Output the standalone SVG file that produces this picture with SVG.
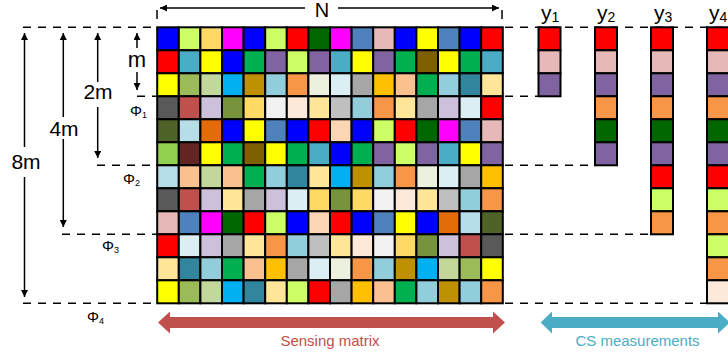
<svg xmlns="http://www.w3.org/2000/svg" width="728" height="355" viewBox="0 0 728 355">
<style>
rect.c{width:21.6px;height:23px;stroke:#000;stroke-width:2}
rect.m{width:22px;height:23px;stroke:#000;stroke-width:2}
.dash{stroke:#000;stroke-width:1.5;stroke-dasharray:8 7;fill:none}
.ar{stroke:#000;stroke-width:1.5;fill:none;marker-end:url(#ah)}
.t{font-family:"Liberation Sans",Arial,sans-serif;fill:#000}
.b{fill:#0000ff}.lm{fill:#ccff66}.lo{fill:#ffd966}.mg{fill:#ff00ff}.r{fill:#ff0000}.dg{fill:#006600}
.sb{fill:#4f81bd}.pk{fill:#e6b9b8}.y{fill:#ffff00}.tl{fill:#4bacc6}.gr{fill:#00b050}.pu{fill:#8064a2}
.br{fill:#7f6000}.og{fill:#9bbb59}.sg{fill:#c4d79b}.sk{fill:#00b0f0}.gd{fill:#bf9000}.lb{fill:#92cddc}
.or{fill:#f79646}.vg{fill:#ebf1de}.lw{fill:#daeef3}.gy{fill:#a6a6a6}.am{fill:#ffc000}.pc{fill:#fac090}
.dt{fill:#31859c}.ly{fill:#ffe699}.dk{fill:#595959}.bk{fill:#c0504d}.lv{fill:#ccc0da}.ol{fill:#77933c}
.lg{fill:#f2f2f2}.lp{fill:#fde9d9}.sv{fill:#bfbfbf}.do{fill:#4f6228}.cy{fill:#b7dee8}.eo{fill:#e36c09}
.pl{fill:#fcd5b4}.ln{fill:#92d050}.mr{fill:#632523}
</style>
<defs>
<marker id="ah" viewBox="0 0 10 10" refX="10" refY="5" markerUnits="userSpaceOnUse" markerWidth="8" markerHeight="7" orient="auto">
<path d="M0,0 L10,5 L0,10 z" fill="#000"/>
</marker>
</defs>

<g id="connectors">
<line class="dash" x1="23" y1="27.3" x2="157" y2="27.3"/>
<line class="dash" x1="137" y1="96.3" x2="157" y2="96.3"/>
<line class="dash" x1="97" y1="165.3" x2="157" y2="165.3"/>
<line class="dash" x1="62" y1="234.3" x2="157" y2="234.3"/>
<line class="dash" x1="23" y1="303.3" x2="157" y2="303.3"/>
<line class="dash" x1="505" y1="27.3" x2="728" y2="27.3"/>
<line class="dash" x1="505" y1="96.3" x2="538" y2="96.3"/>
<line class="dash" x1="505" y1="165.3" x2="595" y2="165.3"/>
<line class="dash" x1="505" y1="234.3" x2="651" y2="234.3"/>
<line class="dash" x1="505" y1="303.3" x2="707" y2="303.3"/>
<line stroke="#000" stroke-width="1.5" x1="157" y1="10" x2="157" y2="19"/>
<line stroke="#000" stroke-width="1.5" x1="502" y1="10" x2="502" y2="19"/>
<line class="ar" x1="305" y1="8" x2="160" y2="8"/>
<line class="ar" x1="338" y1="8" x2="499" y2="8"/>
<line class="ar" x1="137" y1="48" x2="137" y2="33"/>
<line class="ar" x1="137" y1="72" x2="137" y2="90"/>
<line class="ar" x1="97.7" y1="82" x2="97.7" y2="33"/>
<line class="ar" x1="97.7" y1="107" x2="97.7" y2="158"/>
<line class="ar" x1="63.3" y1="117" x2="63.3" y2="33"/>
<line class="ar" x1="63.3" y1="139" x2="63.3" y2="227"/>
<line class="ar" x1="24.5" y1="147" x2="24.5" y2="33"/>
<line class="ar" x1="24.5" y1="177" x2="24.5" y2="297"/>
<polygon fill="#c0504d" points="158,322.5 170,311.5 170,317 493,317 493,311.5 505,322.5 493,333.5 493,328 170,328 170,333.5"/>
<polygon fill="#4bacc6" points="540.7,322.5 552,311.5 552,317 718,317 718,311.5 730,322.5 718,333.5 718,328 552,328 552,333.5"/>
</g>

<g id="labels">
<text class="t" x="322" y="17" font-size="20" text-anchor="middle">N</text>
<text class="t" x="137" y="67" font-size="22" text-anchor="middle">m</text>
<text class="t" x="98" y="99" font-size="21" text-anchor="middle">2m</text>
<text class="t" x="64" y="136" font-size="21" text-anchor="middle">4m</text>
<text class="t" x="26" y="169" font-size="21" text-anchor="middle">8m</text>
<text class="t" x="130" y="116" font-size="15">Φ<tspan font-size="9" dy="2">1</tspan></text>
<text class="t" x="123" y="184" font-size="15">Φ<tspan font-size="9" dy="2">2</tspan></text>
<text class="t" x="102" y="251" font-size="15">Φ<tspan font-size="9" dy="2">3</tspan></text>
<text class="t" x="87" y="322" font-size="15">Φ<tspan font-size="9" dy="2">4</tspan></text>
<text class="t" x="541" y="20" font-size="21">y<tspan font-size="14" dy="2">1</tspan></text>
<text class="t" x="597" y="20" font-size="21">y<tspan font-size="14" dy="2">2</tspan></text>
<text class="t" x="654" y="20" font-size="21">y<tspan font-size="14" dy="2">3</tspan></text>
<text class="t" x="709" y="20" font-size="21">y<tspan font-size="14" dy="2">4</tspan></text>
<text x="330" y="346" font-family="Liberation Sans, Arial, sans-serif" font-size="15" fill="#c0504d" text-anchor="middle">Sensing matrix</text>
<text x="637.5" y="346" font-family="Liberation Sans, Arial, sans-serif" font-size="15" fill="#4bacc6" text-anchor="middle">CS measurements</text>
</g>

<g id="sensing-matrix">
<g transform="translate(0,27.3)">
<rect class="c b" x="157.2"/><rect class="c lm" x="178.8"/><rect class="c lo" x="200.4"/><rect class="c mg" x="222"/><rect class="c b" x="243.6"/><rect class="c lm" x="265.2"/><rect class="c r" x="286.8"/><rect class="c dg" x="308.4"/><rect class="c mg" x="330"/><rect class="c sb" x="351.6"/><rect class="c pk" x="373.2"/><rect class="c b" x="394.8"/><rect class="c y" x="416.4"/><rect class="c sb" x="438"/><rect class="c b" x="459.6"/><rect class="c r" x="481.2"/>
</g>
<g transform="translate(0,50.3)">
<rect class="c r" x="157.2"/><rect class="c tl" x="178.8"/><rect class="c y" x="200.4"/><rect class="c b" x="222"/><rect class="c gr" x="243.6"/><rect class="c pu" x="265.2"/><rect class="c lm" x="286.8"/><rect class="c pu" x="308.4"/><rect class="c tl" x="330"/><rect class="c y" x="351.6"/><rect class="c pu" x="373.2"/><rect class="c gr" x="394.8"/><rect class="c br" x="416.4"/><rect class="c y" x="438"/><rect class="c gr" x="459.6"/><rect class="c tl" x="481.2"/>
</g>
<g transform="translate(0,73.3)">
<rect class="c y" x="157.2"/><rect class="c og" x="178.8"/><rect class="c sg" x="200.4"/><rect class="c sk" x="222"/><rect class="c gd" x="243.6"/><rect class="c lb" x="265.2"/><rect class="c or" x="286.8"/><rect class="c vg" x="308.4"/><rect class="c lw" x="330"/><rect class="c gy" x="351.6"/><rect class="c am" x="373.2"/><rect class="c pc" x="394.8"/><rect class="c gr" x="416.4"/><rect class="c lb" x="438"/><rect class="c dt" x="459.6"/><rect class="c ly" x="481.2"/>
</g>
<g transform="translate(0,96.3)">
<rect class="c dk" x="157.2"/><rect class="c bk" x="178.8"/><rect class="c lv" x="200.4"/><rect class="c ol" x="222"/><rect class="c lo" x="243.6"/><rect class="c lg" x="265.2"/><rect class="c lp" x="286.8"/><rect class="c ly" x="308.4"/><rect class="c sv" x="330"/><rect class="c lb" x="351.6"/><rect class="c or" x="373.2"/><rect class="c ly" x="394.8"/><rect class="c gy" x="416.4"/><rect class="c lv" x="438"/><rect class="c lw" x="459.6"/><rect class="c r" x="481.2"/>
</g>
<g transform="translate(0,119.3)">
<rect class="c do" x="157.2"/><rect class="c cy" x="178.8"/><rect class="c eo" x="200.4"/><rect class="c b" x="222"/><rect class="c y" x="243.6"/><rect class="c sb" x="265.2"/><rect class="c b" x="286.8"/><rect class="c r" x="308.4"/><rect class="c pl" x="330"/><rect class="c b" x="351.6"/><rect class="c lm" x="373.2"/><rect class="c r" x="394.8"/><rect class="c dg" x="416.4"/><rect class="c mg" x="438"/><rect class="c sb" x="459.6"/><rect class="c pk" x="481.2"/>
</g>
<g transform="translate(0,142.3)">
<rect class="c ln" x="157.2"/><rect class="c mr" x="178.8"/><rect class="c y" x="200.4"/><rect class="c gr" x="222"/><rect class="c br" x="243.6"/><rect class="c y" x="265.2"/><rect class="c gr" x="286.8"/><rect class="c tl" x="308.4"/><rect class="c b" x="330"/><rect class="c gr" x="351.6"/><rect class="c pu" x="373.2"/><rect class="c lm" x="394.8"/><rect class="c pu" x="416.4"/><rect class="c tl" x="438"/><rect class="c y" x="459.6"/><rect class="c pu" x="481.2"/>
</g>
<g transform="translate(0,165.3)">
<rect class="c cy" x="157.2"/><rect class="c pc" x="178.8"/><rect class="c sg" x="200.4"/><rect class="c pc" x="222"/><rect class="c gr" x="243.6"/><rect class="c lb" x="265.2"/><rect class="c dt" x="286.8"/><rect class="c ly" x="308.4"/><rect class="c sk" x="330"/><rect class="c gd" x="351.6"/><rect class="c lb" x="373.2"/><rect class="c or" x="394.8"/><rect class="c vg" x="416.4"/><rect class="c lw" x="438"/><rect class="c gy" x="459.6"/><rect class="c am" x="481.2"/>
</g>
<g transform="translate(0,188.3)">
<rect class="c dk" x="157.2"/><rect class="c bk" x="178.8"/><rect class="c lv" x="200.4"/><rect class="c ly" x="222"/><rect class="c gy" x="243.6"/><rect class="c lv" x="265.2"/><rect class="c lw" x="286.8"/><rect class="c lo" x="308.4"/><rect class="c ol" x="330"/><rect class="c lo" x="351.6"/><rect class="c lg" x="373.2"/><rect class="c lp" x="394.8"/><rect class="c ly" x="416.4"/><rect class="c sv" x="438"/><rect class="c lb" x="459.6"/><rect class="c or" x="481.2"/>
</g>
<g transform="translate(0,211.3)">
<rect class="c pk" x="157.2"/><rect class="c sb" x="178.8"/><rect class="c mg" x="200.4"/><rect class="c dg" x="222"/><rect class="c r" x="243.6"/><rect class="c lm" x="265.2"/><rect class="c b" x="286.8"/><rect class="c pl" x="308.4"/><rect class="c r" x="330"/><rect class="c b" x="351.6"/><rect class="c sb" x="373.2"/><rect class="c y" x="394.8"/><rect class="c b" x="416.4"/><rect class="c eo" x="438"/><rect class="c cy" x="459.6"/><rect class="c do" x="481.2"/>
</g>
<g transform="translate(0,234.3)">
<rect class="c r" x="157.2"/><rect class="c lw" x="178.8"/><rect class="c lv" x="200.4"/><rect class="c gy" x="222"/><rect class="c ly" x="243.6"/><rect class="c or" x="265.2"/><rect class="c lb" x="286.8"/><rect class="c sv" x="308.4"/><rect class="c ly" x="330"/><rect class="c lp" x="351.6"/><rect class="c lg" x="373.2"/><rect class="c lo" x="394.8"/><rect class="c ol" x="416.4"/><rect class="c lv" x="438"/><rect class="c bk" x="459.6"/><rect class="c dk" x="481.2"/>
</g>
<g transform="translate(0,257.3)">
<rect class="c ly" x="157.2"/><rect class="c dt" x="178.8"/><rect class="c lb" x="200.4"/><rect class="c gr" x="222"/><rect class="c pc" x="243.6"/><rect class="c am" x="265.2"/><rect class="c gy" x="286.8"/><rect class="c lw" x="308.4"/><rect class="c vg" x="330"/><rect class="c or" x="351.6"/><rect class="c lb" x="373.2"/><rect class="c gd" x="394.8"/><rect class="c sk" x="416.4"/><rect class="c sg" x="438"/><rect class="c og" x="459.6"/><rect class="c y" x="481.2"/>
</g>
<g transform="translate(0,280.3)">
<rect class="c y" x="157.2"/><rect class="c og" x="178.8"/><rect class="c sg" x="200.4"/><rect class="c sk" x="222"/><rect class="c dt" x="243.6"/><rect class="c ly" x="265.2"/><rect class="c lm" x="286.8"/><rect class="c r" x="308.4"/><rect class="c gy" x="330"/><rect class="c am" x="351.6"/><rect class="c pc" x="373.2"/><rect class="c gr" x="394.8"/><rect class="c lb" x="416.4"/><rect class="c gd" x="438"/><rect class="c lb" x="459.6"/><rect class="c or" x="481.2"/>
</g>
</g>

<g id="y1">
<rect class="m r" x="538.5" y="27.3"/><rect class="m pk" x="538.5" y="50.3"/><rect class="m pu" x="538.5" y="73.3"/>
</g>
<g id="y2">
<rect class="m r" x="595" y="27.3"/><rect class="m pk" x="595" y="50.3"/><rect class="m pu" x="595" y="73.3"/><rect class="m or" x="595" y="96.3"/><rect class="m dg" x="595" y="119.3"/><rect class="m pu" x="595" y="142.3"/>
</g>
<g id="y3">
<rect class="m r" x="651" y="27.3"/><rect class="m pk" x="651" y="50.3"/><rect class="m pu" x="651" y="73.3"/><rect class="m or" x="651" y="96.3"/><rect class="m dg" x="651" y="119.3"/><rect class="m pu" x="651" y="142.3"/><rect class="m r" x="651" y="165.3"/><rect class="m lm" x="651" y="188.3"/><rect class="m or" x="651" y="211.3"/>
</g>
<g id="y4">
<rect class="m r" x="707" y="27.3"/><rect class="m pk" x="707" y="50.3"/><rect class="m pu" x="707" y="73.3"/><rect class="m or" x="707" y="96.3"/><rect class="m dg" x="707" y="119.3"/><rect class="m pu" x="707" y="142.3"/><rect class="m r" x="707" y="165.3"/><rect class="m lm" x="707" y="188.3"/><rect class="m or" x="707" y="211.3"/><rect class="m lm" x="707" y="234.3"/><rect class="m or" x="707" y="257.3"/><rect class="m lp" x="707" y="280.3"/>
</g>
</svg>
